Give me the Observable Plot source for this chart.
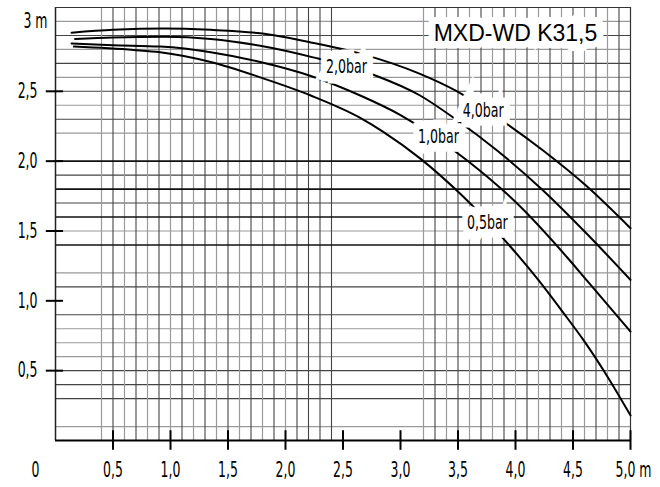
<!DOCTYPE html>
<html><head><meta charset="utf-8">
<script src="https://cdn.jsdelivr.net/npm/d3@7"></script>
<script src="https://cdn.jsdelivr.net/npm/@observablehq/plot@0.6"></script>
<style>body{margin:0;background:#fff;}</style>
</head><body><div id="chart"></div>
<script>
const title = "MXD-WD K31,5";
const xTicks = [0.5, 1, 1.5, 2, 2.5, 3, 3.5, 4, 4.5];
const xTickLabels = ["0,5", "1,0", "1,5", "2,0", "2,5", "3,0", "3,5", "4,0", "4,5"];
const xLastTick = 5;
const xLastLabel = "5,0 m";
const yTicks = [0.5, 1, 1.5, 2, 2.5];
const yTickLabels = ["0,5", "1,0", "1,5", "2,0", "2,5"];
const yTopLabel = "3 m";
const originLabel = "0";

// grid lines (tenths of a metre)
const vGridDark = [0.5, 0.7, 0.9, 1.1, 1.3, 1.5, 1.7, 1.9, 2.1, 2.2, 2.3, 2.4, 3.3, 3.5, 3.7, 3.9, 4.1, 4.3, 4.5, 4.7, 4.9];
const vGridLight = [0.4, 0.6, 0.8, 1.0, 1.2, 1.4, 1.6, 1.8, 2.0, 3.2, 3.4, 3.6, 3.8, 4.0, 4.2, 4.4, 4.6, 4.8];
const hGridBold = [2.0, 1.8, 1.6, 1.4];
const hGridDark = [0.3, 0.5, 0.4, 0.9, 1.1, 1.7, 1.9, 2.3, 2.5, 2.7, 2.9];
const hGridLight = [0.1, 0.6, 0.7, 0.8, 1.2, 1.5, 2.2, 2.4, 2.6, 2.8, 3.0];

// pump curves [flow m, head m]
const curve40 = [[0.14,2.92],[0.5,2.94],[0.95,2.95],[1.35,2.94],[1.78,2.915],[2.22,2.85],[2.65,2.77],[3.17,2.625],[3.48,2.505],[3.91,2.275],[4.24,2.076],[4.62,1.82],[5.0,1.52]];
const curve20 = [[0.17,2.875],[0.5,2.885],[0.95,2.89],[1.35,2.875],[1.78,2.826],[2.24,2.743],[2.77,2.617],[3.17,2.47],[3.48,2.30],[3.84,2.076],[4.24,1.79],[4.62,1.48],[5.0,1.15]];
const curve10 = [[0.14,2.843],[0.5,2.83],[0.91,2.82],[1.35,2.78],[1.78,2.71],[2.22,2.61],[2.65,2.47],[3.0,2.33],[3.58,2.005],[4.01,1.70],[4.45,1.31],[4.62,1.146],[5.0,0.78]];
const curve05 = [[0.16,2.82],[0.68,2.796],[0.91,2.78],[1.35,2.71],[1.78,2.60],[2.22,2.47],[2.65,2.31],[2.85,2.21],[3.17,2.02],[3.54,1.75],[3.90,1.44],[4.20,1.148],[4.42,0.91],[4.59,0.72],[4.80,0.457],[5.0,0.18]];

const curveNames = ["4,0bar", "2,0bar", "1,0bar", "0,5bar"];
const labelX = [3.72, 2.53, 3.33, 3.755];
const labelY = [2.362, 2.676, 2.176, 1.562];

const FONT = "'DejaVu Sans Condensed', 'DejaVu Sans', sans-serif";
const lineOpts = {x: d => d[0], y: d => d[1], stroke: "black", strokeWidth: 2, curve: "monotone-x"};

const plot = Plot.plot({
  width: 660, height: 487,
  marginLeft: 55, marginRight: 30, marginTop: 7, marginBottom: 47,
  x: {domain: [0, 5], axis: null},
  y: {domain: [0, 3.1], axis: null},
  style: {fontFamily: FONT, background: "white", color: "black", overflow: "visible"},
  marks: [
    Plot.ruleY(hGridLight, {y: d => d, x1: 0, x2: 5, stroke: "#9a9a9a", strokeWidth: 1.2}),
    Plot.ruleY(hGridDark, {y: d => d, x1: 0, x2: 5, stroke: "#444", strokeWidth: 1.1}),
    Plot.ruleX(vGridLight, {x: d => d, y1: 0, y2: 3.1, stroke: "#9a9a9a", strokeWidth: 1.2}),
    Plot.ruleX(vGridDark, {x: d => d, y1: 0, y2: 3.1, stroke: "#444", strokeWidth: 1.1}),
    Plot.ruleY(hGridBold, {y: d => d, x1: 0, x2: 5, stroke: "#111", strokeWidth: 1.6}),
    // frame
    Plot.ruleX([0], {y1: 0, y2: 3.1, stroke: "#222", strokeWidth: 1.5}),
    Plot.ruleX([5], {y1: 0, y2: 3.1, stroke: "#333", strokeWidth: 1.2}),
    Plot.ruleY([3.1], {x1: 0, x2: 5, stroke: "#333", strokeWidth: 1.2}),
    // curves
    Plot.line(curve40, lineOpts),
    Plot.line(curve20, lineOpts),
    Plot.line(curve10, lineOpts),
    Plot.line(curve05, lineOpts),
    // curve labels with white boxes
    Plot.text(curveNames, {x: (d, i) => labelX[i], y: (d, i) => labelY[i], text: d => d,
      fontSize: 20, fill: "black", stroke: "white", strokeWidth: 17, paintOrder: "stroke", strokeLinejoin: "miter",
      textAnchor: "middle", lineAnchor: "middle"}),
    // title box
    Plot.text([title], {frameAnchor: "top-right", dx: -115, dy: 26, text: d => d,
      fontFamily: "'Liberation Sans', Arial, sans-serif", fontSize: 23, fill: "black",
      stroke: "white", strokeWidth: 14, paintOrder: "stroke", strokeLinejoin: "miter",
      textAnchor: "middle", lineAnchor: "middle"}),
    // x axis
    Plot.ruleY([0], {x1: 0, x2: 5, stroke: "black", strokeWidth: 2}),
    Plot.ruleX([...xTicks, xLastTick], {x: d => d, y1: -0.07, y2: 0.07, stroke: "black", strokeWidth: 2}),
    Plot.text(xTicks, {x: d => d, y: 0, text: (d, i) => xTickLabels[i], dy: 30, fontSize: 21, textAnchor: "middle", lineAnchor: "middle"}),
    Plot.text([xLastLabel], {x: xLastTick, y: 0, text: d => d, dy: 30, dx: -15, fontSize: 21, textAnchor: "start", lineAnchor: "middle"}),
    Plot.text([originLabel], {x: 0, y: 0, text: d => d, dy: 30, dx: -20, fontSize: 21, textAnchor: "middle", lineAnchor: "middle"}),
    // y axis
    Plot.ruleY(yTicks, {y: d => d, x1: -0.08, x2: 0.07, stroke: "black", strokeWidth: 2}),
    Plot.text(yTicks, {x: 0, y: d => d, text: (d, i) => yTickLabels[i], dx: -18, fontSize: 21, textAnchor: "end", lineAnchor: "middle"}),
    Plot.text([yTopLabel], {x: 0, y: 3, text: d => d, dx: -8, fontSize: 21, textAnchor: "end", lineAnchor: "middle"})
  ]
});

// narrow the drawing-style labels horizontally (condensed lettering)
plot.querySelectorAll("text").forEach(t => {
  const s = t.textContent;
  if (s === title) return;
  const k = s.includes("bar") ? 0.7 : 0.66;
  const tr = t.getAttribute("transform") || "";
  const xa = t.getAttribute("x");
  if (xa !== null) {
    const x = +xa;
    t.setAttribute("transform", `${tr} translate(${x},0) scale(${k},1) translate(${-x},0)`);
  } else {
    t.setAttribute("transform", `${tr} scale(${k},1)`);
  }
});
document.getElementById("chart").appendChild(plot);
</script>
</body></html>
